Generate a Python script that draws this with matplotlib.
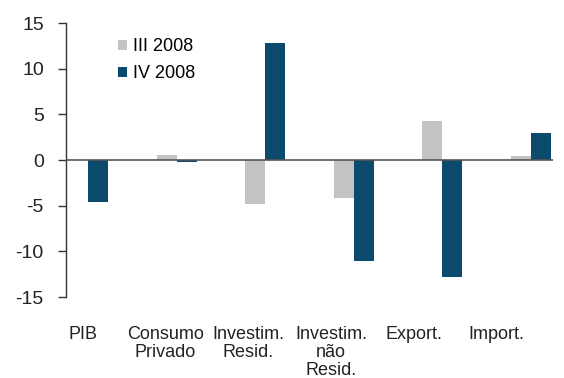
import matplotlib
matplotlib.use("Agg")
import matplotlib.pyplot as plt
import numpy as np

plt.rcParams['font.family'] = ['Liberation Sans', 'DejaVu Sans']
plt.rcParams['axes.unicode_minus'] = False

categorias = ['PIB', 'Consumo\nPrivado', 'Investim.\nResid.', 'Investim.\nnão\nResid.',
              'Export.', 'Import.']
iii_2008 = [0.0, 0.6, -4.8, -4.1, 4.3, 0.5]
iv_2008 = [-4.6, -0.2, 12.8, -11.1, -12.8, 3.0]

cinza = '#c3c3c3'
azul = '#0b4a6c'

fig = plt.figure(figsize=(5.64, 3.78), dpi=100)
ax = fig.add_axes([0.117, 0.214, 0.863, 0.725])

x = np.arange(len(categorias))
w = 0.225
ax.bar(x - w/2, iii_2008, w, color=cinza, label='III 2008')
ax.bar(x + w/2, iv_2008, w, color=azul, label='IV 2008')

ax.axhline(0, color='#555555', lw=1.2, zorder=3)

ax.set_xlim(-0.25, 5.25)
ax.set_ylim(-15, 15)
ax.set_yticks([-15, -10, -5, 0, 5, 10, 15])
# category labels sit on a slightly tighter pitch than the bar groups
ax.set_xticks(-0.06 + 0.935 * x)
ax.set_xticklabels(categorias, linespacing=1.05)

for s in ['top', 'right', 'bottom']:
    ax.spines[s].set_visible(False)
ax.spines['left'].set_color('#333333')
ax.spines['left'].set_linewidth(1.0)
ax.tick_params(axis='y', length=6, width=1.0, color='#333333', labelsize=14, pad=10,
               labelcolor='#222222')
ax.tick_params(axis='x', length=0, labelsize=13, pad=21, labelcolor='#222222')

ax.legend(loc='upper left', bbox_to_anchor=(0.08, 0.99), frameon=False, fontsize=13,
          handlelength=0.55, handleheight=0.55, handletextpad=0.3, labelspacing=0.55,
          borderaxespad=0.3)

fig.savefig('out.png', dpi=100, facecolor='white')
